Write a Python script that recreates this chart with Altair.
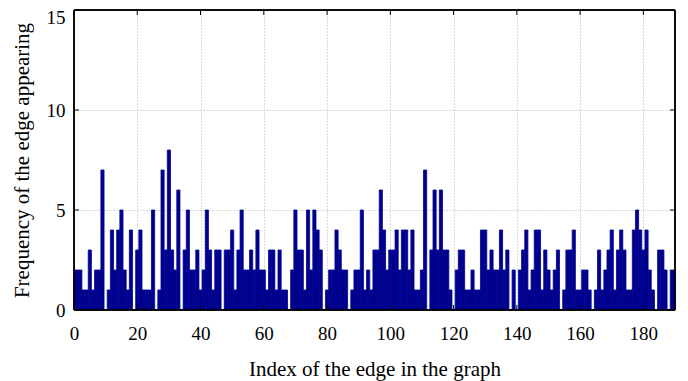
import altair as alt
import pandas as pd

# Edge indices 0..190 and how often each edge appears
edge_index = list(range(0, 191))
frequency = [
    2, 2, 2, 1, 1, 3, 1, 2, 2, 7,
    0, 1, 4, 2, 4, 5, 2, 1, 4, 0,
    3, 4, 1, 1, 1, 5, 0, 1, 7, 3,
    8, 3, 2, 6, 0, 3, 5, 2, 2, 3,
    1, 2, 5, 3, 1, 3, 3, 0, 3, 3,
    4, 1, 3, 5, 2, 2, 3, 2, 4, 2,
    2, 1, 3, 3, 1, 3, 1, 1, 0, 2,
    5, 3, 3, 1, 5, 2, 5, 4, 3, 0,
    1, 2, 2, 4, 3, 2, 2, 0, 1, 2,
    2, 5, 1, 2, 1, 3, 3, 6, 4, 2,
    3, 3, 4, 2, 4, 4, 2, 4, 1, 1,
    2, 7, 0, 3, 6, 3, 6, 3, 3, 1,
    0, 2, 3, 3, 1, 1, 2, 1, 1, 4,
    4, 2, 3, 2, 2, 4, 2, 3, 0, 2,
    0, 2, 3, 4, 1, 2, 4, 4, 1, 3,
    2, 1, 2, 3, 0, 1, 3, 3, 4, 1,
    1, 2, 2, 1, 0, 1, 3, 1, 2, 3,
    4, 1, 3, 4, 3, 1, 1, 4, 5, 4,
    3, 4, 2, 1, 0, 3, 3, 2, 0, 2, 2,
]
x_ticks = [0, 20, 40, 60, 80, 100, 120, 140, 160, 180]
y_ticks = [0, 5, 10, 15]
x_domain = [0, 190]
y_domain = [0, 15]
x_title = "Index of the edge in the graph"
y_title = "Frequency of the edge appearing"

W, H = 601, 300
FONT = "Liberation Serif"
BAR_COLOR = "#00008F"

df = pd.DataFrame({"idx": edge_index, "freq": frequency})
xt = pd.DataFrame({"t": x_ticks})
yt = pd.DataFrame({"t": y_ticks})

xscale = alt.Scale(domain=x_domain, nice=False, zero=False)
yscale = alt.Scale(domain=y_domain, nice=False)

grid_kw = dict(grid=True, gridColor="#b4b4b4", gridDash=[1, 2], gridWidth=1,
               ticks=False, tickSize=0, domain=False,
               labelFont=FONT, labelFontSize=19, labelColor="black",
               titleFont=FONT, titleFontSize=21, titleFontWeight="normal",
               titleColor="black")
x_axis = alt.Axis(values=x_ticks, title=x_title, labelPadding=14, titlePadding=15,
                  labelFlush=False, **grid_kw)
y_axis = alt.Axis(values=y_ticks, title=y_title, labelPadding=9, titlePadding=14,
                  labelFlush=False,
                  labelOffset={"condition": {"test": "datum.value == 15", "value": 7}, "value": 0},
                  **grid_kw)

bars = alt.Chart(df).transform_calculate(
    x0="datum.idx - 0.5", x1="datum.idx + 0.5"
).mark_rect(color=BAR_COLOR, stroke=BAR_COLOR, strokeWidth=0.8, clip=True).encode(
    x=alt.X("x0:Q", scale=xscale, axis=x_axis),
    x2="x1:Q",
    y=alt.Y("freq:Q", scale=yscale, axis=y_axis),
    y2=alt.datum(0),
)

tick_len = 5
bottom_ticks = alt.Chart(xt).mark_rule(color="black").encode(
    x=alt.X("t:Q", scale=xscale, axis=x_axis), y=alt.value(H), y2=alt.value(H - tick_len))
top_ticks = alt.Chart(xt).mark_rule(color="black").encode(
    x=alt.X("t:Q", scale=xscale, axis=x_axis), y=alt.value(0), y2=alt.value(tick_len))
left_ticks = alt.Chart(yt).mark_rule(color="black").encode(
    y=alt.Y("t:Q", scale=yscale, axis=y_axis), x=alt.value(0), x2=alt.value(tick_len))
right_ticks = alt.Chart(yt).mark_rule(color="black").encode(
    y=alt.Y("t:Q", scale=yscale, axis=y_axis), x=alt.value(W), x2=alt.value(W - tick_len))

frame = alt.Chart(yt).mark_rect(fill=None, stroke="black", strokeWidth=1).encode(
    x=alt.value(0), x2=alt.value(W), y=alt.value(0), y2=alt.value(H))

chart = alt.layer(
    bars, bottom_ticks, top_ticks, left_ticks, right_ticks, frame,
).properties(
    width=W, height=H,
    autosize=alt.AutoSizeParams(type="none"),
    padding={"left": 66, "top": 2, "right": 5, "bottom": 71},
    background="white",
).configure_view(
    stroke=None
).configure_axis(
    labelFont=FONT, titleFont=FONT, labelColor="black", titleColor="black"
).configure(font=FONT)

chart.save("out.html", embed_options={"renderer": "svg", "actions": False})
